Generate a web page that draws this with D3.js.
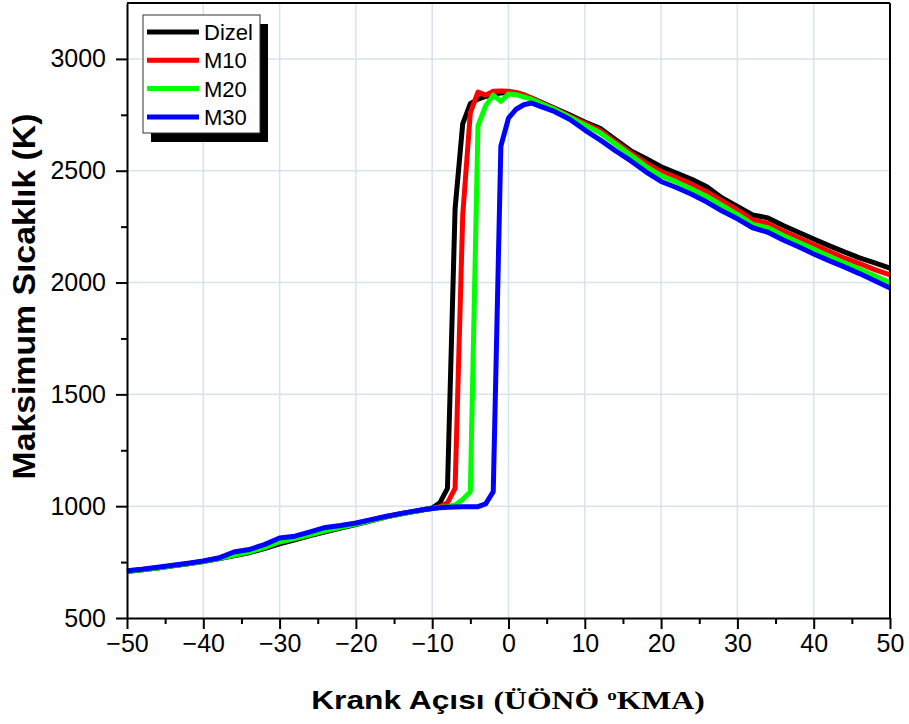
<!DOCTYPE html>
<html>
<head>
<meta charset="utf-8">
<script src="https://cdn.jsdelivr.net/npm/d3@7"></script>
<style>
  body { margin: 0; background: #fff; }
  svg { display: block; font-family: "Liberation Sans", Arial, sans-serif; }
</style>
</head>
<body>
<div id="chart"></div>
<script>
// crank angle (deg) shared by all series
const crankAngle = [
  -50, -48, -46, -44, -42, -40, -38, -36, -34, -32, -30, -28, -26, -24, -22, -20, -18, -16, -14, -12,
  -11, -10, -9, -8, -7, -6, -5, -4, -3, -2, -1, 0, 1, 2, 3, 4,
  6, 8, 10, 12, 14, 16, 18, 20, 22, 24, 26, 28, 30, 32, 34, 36, 38, 40, 42, 44, 46, 48, 50
];

const dizel = [
  708, 716, 724, 733, 742, 752, 765, 778, 792, 810, 832, 850, 868, 885, 902, 918, 935, 952, 966, 978,
  985, 992, 1015, 1080, 2330, 2710, 2800, 2820, 2832, 2840, 2848, 2850, 2845, 2838, 2825, 2810,
  2780, 2750, 2718, 2690, 2640, 2590, 2555, 2518, 2490, 2462, 2428, 2378, 2340, 2302, 2289, 2255, 2225, 2195, 2165, 2137, 2110, 2088, 2065
];

const m10 = [
  710, 717, 725, 734, 743, 754, 767, 790, 800, 820, 850, 862, 880, 898, 910, 922, 938, 953, 967, 979,
  985, 990, 998, 1015, 1080, 2300, 2760, 2852, 2838, 2855, 2857, 2855, 2850, 2840, 2825, 2808,
  2778, 2745, 2712, 2680, 2630, 2580, 2535, 2496, 2470, 2440, 2405, 2365, 2325, 2280, 2265, 2230, 2200, 2170, 2140, 2110, 2085, 2058, 2034
];

const m20 = [
  709, 716, 724, 733, 742, 753, 766, 780, 795, 815, 840, 855, 872, 890, 905, 920, 936, 952, 966, 978,
  985, 990, 995, 998, 1005, 1030, 1065, 2700, 2790, 2838, 2810, 2843, 2840, 2830, 2820, 2805,
  2775, 2740, 2705, 2670, 2620, 2570, 2520, 2478, 2450, 2418, 2385, 2345, 2305, 2260, 2245, 2210, 2180, 2150, 2118, 2088, 2060, 2030, 2000
];

const m30 = [
  711, 718, 727, 736, 745, 755, 768, 795, 806, 828, 858, 866, 885, 905, 914, 925, 940, 955, 968, 980,
  985, 990, 993, 995, 996, 997, 997, 998, 1010, 1065, 2610, 2735, 2775, 2795, 2803, 2790,
  2765, 2730, 2682, 2638, 2590, 2545, 2495, 2452, 2425, 2395, 2360, 2320, 2285, 2245, 2225, 2190, 2160, 2128, 2098, 2070, 2040, 2008, 1976
];

const seriesNames = ["Dizel", "M10", "M20", "M30"];
const seriesColors = ["#000000", "#ff0000", "#00ff00", "#0000ff"];
const seriesValues = [dizel, m10, m20, m30];

const xTicks = [-50, -40, -30, -20, -10, 0, 10, 20, 30, 40, 50];
const xMinorTicks = [-45, -35, -25, -15, -5, 5, 15, 25, 35, 45];
const yTicks = [500, 1000, 1500, 2000, 2500, 3000];
const yMinorTicks = [750, 1250, 1750, 2250, 2750];

const width = 909, height = 724;
const margin = { top: 3, right: 19, bottom: 106, left: 127 };
const innerW = width - margin.left - margin.right;
const innerH = height - margin.top - margin.bottom;

const svg = d3.select("#chart").append("svg")
    .attr("width", width)
    .attr("height", height);

const x = d3.scaleLinear().domain([-50, 50]).range([margin.left, margin.left + innerW]);
const y = d3.scaleLinear().domain([500, 3250]).range([margin.top + innerH, margin.top]);

// grid lines
svg.append("g")
    .selectAll("line.gx")
    .data(xTicks.slice(1, -1))
    .join("line")
    .attr("x1", d => x(d)).attr("x2", d => x(d))
    .attr("y1", y(3250)).attr("y2", y(500))
    .attr("stroke", "#d5e3f0").attr("stroke-width", 1.5);

svg.append("g")
    .selectAll("line.gy")
    .data(yTicks.slice(1))
    .join("line")
    .attr("x1", x(-50)).attr("x2", x(50))
    .attr("y1", d => y(d)).attr("y2", d => y(d))
    .attr("stroke", "#d5e3f0").attr("stroke-width", 1.5);

// lines
const line = d3.line()
    .x((d, i) => x(crankAngle[i]))
    .y(d => y(d));

svg.append("g")
    .selectAll("path")
    .data(seriesValues)
    .join("path")
    .attr("d", d => line(d))
    .attr("fill", "none")
    .attr("stroke", (d, i) => seriesColors[i])
    .attr("stroke-width", 5)
    .attr("stroke-linejoin", "round");

// minor ticks
svg.append("g")
    .attr("transform", `translate(0,${y(500)})`)
    .call(d3.axisBottom(x).tickValues(xMinorTicks).tickSize(6).tickFormat(""))
    .call(g => g.select(".domain").remove())
    .call(g => g.selectAll("line").attr("stroke-width", 2));

svg.append("g")
    .attr("transform", `translate(${x(-50)},0)`)
    .call(d3.axisLeft(y).tickValues(yMinorTicks).tickSize(6).tickFormat(""))
    .call(g => g.select(".domain").remove())
    .call(g => g.selectAll("line").attr("stroke-width", 2));

// main axes
const xAxis = svg.append("g")
    .attr("transform", `translate(0,${y(500)})`)
    .call(d3.axisBottom(x).tickValues(xTicks).tickSize(11).tickSizeOuter(0).tickPadding(5)
        .tickFormat(d => d < 0 ? "\u2212" + Math.abs(d) : d));
xAxis.selectAll("line").attr("stroke-width", 2);
xAxis.select(".domain").attr("stroke-width", 2);
xAxis.selectAll("text").attr("font-size", 25).attr("font-family", "Liberation Sans, Arial, sans-serif").attr("fill", "#000");

const yAxis = svg.append("g")
    .attr("transform", `translate(${x(-50)},0)`)
    .call(d3.axisLeft(y).tickValues(yTicks).tickSize(11).tickSizeOuter(0).tickPadding(10)
        .tickFormat(d3.format("d")));
yAxis.selectAll("line").attr("stroke-width", 2);
yAxis.select(".domain").attr("stroke-width", 2);
yAxis.selectAll("text").attr("font-size", 25).attr("font-family", "Liberation Sans, Arial, sans-serif").attr("fill", "#000");

// frame top and right
svg.append("line")
    .attr("x1", x(-50)).attr("x2", x(50))
    .attr("y1", y(3250)).attr("y2", y(3250))
    .attr("stroke", "#000").attr("stroke-width", 2);
svg.append("line")
    .attr("x1", x(50)).attr("x2", x(50))
    .attr("y1", y(3250)).attr("y2", y(500))
    .attr("stroke", "#000").attr("stroke-width", 2);

// axis titles (the original is stretched sideways)
const xTitle = svg.append("text")
    .attr("transform", "translate(508,709) scale(1.27,1)")
    .attr("text-anchor", "middle")
    .attr("font-weight", "bold")
    .attr("font-size", 25);
xTitle.append("tspan").attr("font-family", "Liberation Sans, Arial, sans-serif").text("Krank Açısı ");
xTitle.append("tspan").attr("font-family", "Liberation Serif, Times New Roman, serif").text("(ÜÖNÖ ");
xTitle.append("tspan").attr("font-family", "Liberation Serif, Times New Roman, serif")
    .attr("font-size", 15).attr("dy", -9).text("o");
xTitle.append("tspan").attr("font-family", "Liberation Serif, Times New Roman, serif")
    .attr("dy", 9).text("KMA)");

svg.append("text")
    .attr("transform", "translate(35,296.5) rotate(-90) scale(1.09,1)")
    .attr("text-anchor", "middle")
    .attr("font-weight", "bold")
    .attr("font-size", 31)
    .text("Maksimum Sıcaklık (K)");

// legend
const legend = svg.append("g").attr("transform", "translate(143,15)");
legend.append("rect")
    .attr("x", 8).attr("y", 9).attr("width", 117).attr("height", 118)
    .attr("fill", "#000");
legend.append("rect")
    .attr("x", 0).attr("y", 0).attr("width", 117).attr("height", 118)
    .attr("fill", "#fff").attr("stroke", "#333").attr("stroke-width", 1);

const rows = legend.selectAll("g.row")
    .data(seriesNames)
    .join("g")
    .attr("transform", (d, i) => `translate(0,${17 + i * 28.3})`);
rows.append("line")
    .attr("x1", 4).attr("x2", 56)
    .attr("stroke", (d, i) => seriesColors[i])
    .attr("stroke-width", 5);
rows.append("text")
    .attr("x", 61).attr("y", 8)
    .attr("font-size", 22)
    .text(d => d);
</script>
</body>
</html>
